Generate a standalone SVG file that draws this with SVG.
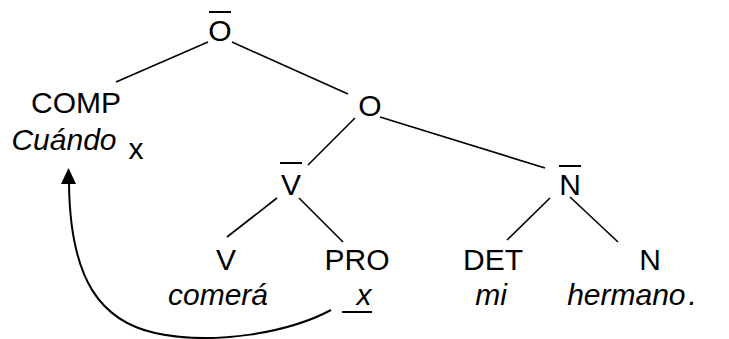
<svg xmlns="http://www.w3.org/2000/svg" width="729" height="339" viewBox="0 0 729 339">
<style>
text{font-family:"Liberation Sans",Arial,sans-serif;font-size:30px;fill:#000;text-anchor:middle}
.i{font-style:italic}
.e{stroke:#000;stroke-width:1.6;fill:none}
.bar{stroke:#000;stroke-width:2}
</style>
<g id="connectors">
<line class="e" x1="208" y1="42" x2="116" y2="82"/>
<line class="e" x1="232" y1="42" x2="348" y2="94"/>
<line class="e" x1="355" y1="118" x2="308" y2="165"/>
<line class="e" x1="380" y1="117" x2="545" y2="168"/>
<line class="e" x1="277" y1="198" x2="227" y2="237"/>
<line class="e" x1="299" y1="198" x2="343" y2="242"/>
<line class="e" x1="550" y1="198" x2="507" y2="240"/>
<line class="e" x1="570" y1="197" x2="618" y2="242"/>
<path id="movement" d="M331,310 C290,332 215,346 155,333 C102,321 70,282 69,183" stroke="#000" stroke-width="2" fill="none"/>
<path d="M61,184 L76,184 L68.5,168 Z" fill="#000"/>
</g>
<g id="n-obar"><text x="220" y="41">O</text><line class="bar" x1="209" y1="12" x2="231" y2="12"/></g>
<g id="n-comp"><text x="76" y="113">COMP</text><text class="i" x="64" y="150">Cuándo</text><text x="136" y="159">x</text></g>
<g id="n-o"><text x="370" y="116">O</text></g>
<g id="n-vbar"><text x="291" y="195">V</text><line class="bar" x1="280" y1="163" x2="302" y2="163"/></g>
<g id="n-nbar"><text x="570" y="195">N</text><line class="bar" x1="559" y1="166" x2="581" y2="166"/></g>
<g id="n-v"><text x="226" y="270">V</text><text class="i" x="218" y="305">comerá</text></g>
<g id="n-pro"><text x="357" y="270">PRO</text><text class="i" x="364" y="305">x</text><line class="bar" x1="342" y1="312" x2="372" y2="312"/></g>
<g id="n-det"><text x="493" y="270">DET</text><text class="i" x="491" y="305">mi</text></g>
<g id="n-n"><text x="650" y="270">N</text><text class="i" x="632" y="305">hermano<tspan dx="3">.</tspan></text></g>
</svg>
